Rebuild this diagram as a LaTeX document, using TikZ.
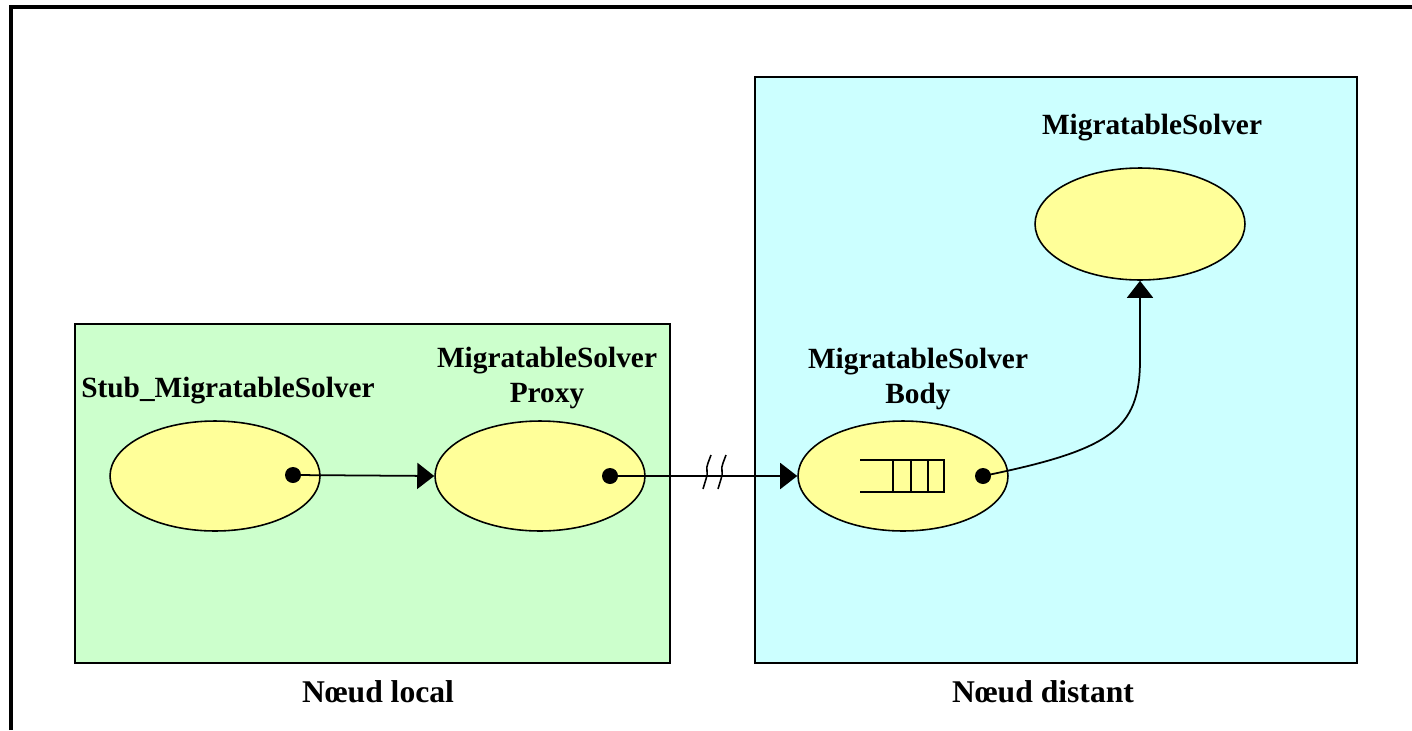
\documentclass[tikz,border=0pt]{standalone}
\usepackage{fontspec}
\setmainfont{Liberation Serif}
\usetikzlibrary{shapes.geometric,arrows.meta}
\definecolor{localgreen}{HTML}{CCFFCC}
\definecolor{distblue}{HTML}{CCFFFF}
\definecolor{objyellow}{HTML}{FFFF99}
\tikzset{
  nodebox/.style={draw, line width=1.1pt},
  obj/.style={ellipse, draw, line width=0.9pt, fill=objyellow, minimum width=4.2cm, minimum height=2.2cm, inner sep=0pt},
  dot/.style={circle, fill=black, minimum size=0.32cm, inner sep=0pt},
  lbl/.style={font=\fontsize{16.7}{20.4}\selectfont\bfseries, align=center},
  biglbl/.style={font=\fontsize{18}{22}\selectfont\bfseries, align=center},
  conn/.style={line width=1pt, -{Triangle[length=0.34cm,width=0.52cm]}},
}
\begin{document}
\begin{tikzpicture}[x=0.02cm,y=-0.02cm]
\useasboundingbox (0,0) rectangle (1412,730);
% outer frame
\draw[line width=2pt] (11,730) -- (11,7) -- (1412,7);
% node boxes
\draw[nodebox, fill=localgreen] (75,324) rectangle (670,663);
\draw[nodebox, fill=distblue] (755,77) rectangle (1357,663);
% objects
\node[obj] (stub) at (215,476) {};
\node[obj] (proxy) at (540,476) {};
\node[obj] (body) at (903,476) {};
\node[obj, minimum height=2.24cm] (ms) at (1140,224) {};
% queue
\draw[line width=0.9pt] (860,460) -- (944,460) -- (944,492) -- (860,492);
\draw[line width=0.9pt] (893,460) -- (893,492) (911,460) -- (911,492) (928,460) -- (928,492);
% dots
\node[dot] (d1) at (293,475) {};
\node[dot] (d2) at (610,476) {};
\node[dot] (d3) at (983,476) {};
% connectors
\draw[conn] (d1.center) -- (proxy.west);
\draw[conn] (d2.center) -- (body.west);
\draw[conn] (d3.center) .. controls (1110,450) and (1140,430) .. (1140,360) -- (ms.south);
% break marks
\coordinate (b1) at (707,473);
\coordinate (b2) at (722,473);
\foreach \b in {b1,b2}{
  \draw[line width=0.9pt, shift={(\b)}] (-4,16) -- (-1,6) .. controls (2,0) and (-2,-4) .. (1,-10) -- (4,-18);
}
% labels
\node[lbl] (lstub) at (228,391) {Stub\_MigratableSolver};
\node[lbl] (lproxy) at (547,378) {MigratableSolver\\Proxy};
\node[lbl] (lbody) at (918,379) {MigratableSolver\\Body};
\node[lbl] (lms) at (1152,128) {MigratableSolver};
\node[biglbl] (llocal) at (378,692) {Nœud local};
\node[biglbl] (ldist) at (1043,692) {Nœud distant};
\end{tikzpicture}
\end{document}
